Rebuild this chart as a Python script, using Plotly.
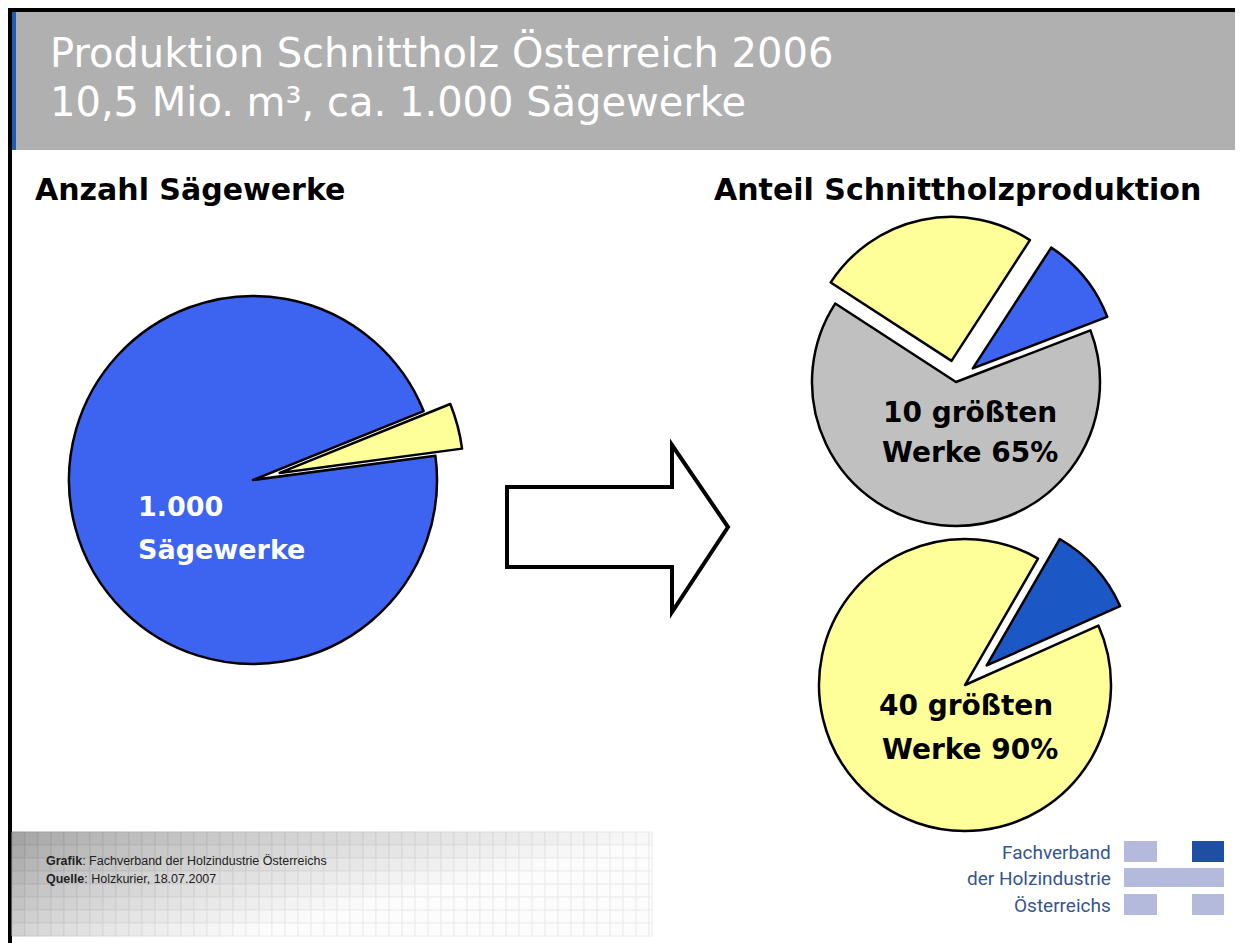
import plotly.graph_objects as go

W, H = 1243, 943
OFF = 8  # page margin of the html body
FW, FH = W - OFF, H - OFF

# --- data ---
left_labels = ["40 größten Werke", "übrige Sägewerke"]
left_values = [4, 96]

top_labels = ["übrige Werke", "10 größten Werke", "11. bis 40. größte Werke"]
top_values = [10, 65, 25]

bottom_labels = ["übrige Werke", "40 größten Werke"]
bottom_values = [10, 90]

title_lines = ["Produktion Schnittholz Österreich 2006",
               "10,5 Mio. m³, ca. 1.000 Sägewerke"]

blue = "#3C64F0"
blue_dark = "#1C57C6"
yellow = "#FFFF99"
gray = "#C0C0C0"


def px(x):
    return (x - OFF) / FW


def py(y):
    return 1 - (y - OFF) / FH


def dom(cx, cy, half):
    return dict(x=[px(cx - half), px(cx + half)], y=[py(cy + half), py(cy - half)])


def txt(x, y, s, size, color="black", bold=False, xanchor="left", family="DejaVu Sans"):
    return dict(x=px(x), y=py(y), xref="paper", yref="paper", text=s, showarrow=False,
                xanchor=xanchor, yanchor="middle", align=xanchor if xanchor != "center" else "center",
                font=dict(size=size, color=color, family=family, weight="bold" if bold else "normal"))


def rect(x0, x1, y0, y1, fill, line=None, layer="below"):
    return dict(type="rect", xref="paper", yref="paper", x0=px(x0), x1=px(x1), y0=py(y1), y1=py(y0),
                fillcolor=fill, line=line or dict(width=0), layer=layer)


fig = go.Figure()
outline = dict(color="black", width=2.5)

# left pie: 1.000 Sägewerke
r_left, pull_left = 184, 0.15
fig.add_trace(go.Pie(labels=left_labels, values=left_values, sort=False, direction="clockwise",
                     rotation=68, pull=[pull_left, 0],
                     marker=dict(colors=[yellow, blue], line=outline),
                     textinfo="none", showlegend=False,
                     domain=dom(253, 480, r_left * (1 + pull_left))))

# top right pie: 10 größten Werke 65%
r_top, pull_top = 144, 0.15
fig.add_trace(go.Pie(labels=top_labels, values=top_values, sort=False, direction="clockwise",
                     rotation=33, pull=[pull_top, 0, pull_top],
                     marker=dict(colors=[blue, gray, yellow], line=outline),
                     textinfo="none", showlegend=False,
                     domain=dom(956, 382, r_top * (1 + pull_top))))

# bottom right pie: 40 größten Werke 90%
r_bot, pull_bot = 146, 0.2
fig.add_trace(go.Pie(labels=bottom_labels, values=bottom_values, sort=False, direction="clockwise",
                     rotation=30, pull=[pull_bot, 0],
                     marker=dict(colors=[blue_dark, yellow], line=outline),
                     textinfo="none", showlegend=False,
                     domain=dom(965, 685, r_bot * (1 + pull_bot))))

shapes = []
# header band and frame
shapes.append(rect(12, W, 12, 150, "#B0B0B0"))
shapes.append(rect(OFF, W, OFF, 12, "black"))
shapes.append(rect(OFF, 12, OFF, H, "black"))
shapes.append(rect(12, 16, 12, 150, "#1F5FB0"))

# footer grid with gradient
x_start, x_end, y_start, y_end, step = 12, 652, 832, 936, 13
x = x_start
while x < x_end:
    y = y_start
    while y < y_end:
        fx = (x - x_start) / (x_end - x_start)
        fy = (y - y_start) / (y_end - y_start)
        v = min(252, int(165 + 85 * fx ** 0.7 + 50 * fy))
        lv = max(0, v - 16)
        shapes.append(rect(x, min(x + step, x_end), y, min(y + step, y_end), f"rgb({v},{v},{v})",
                           line=dict(color=f"rgb({lv},{lv},{lv})", width=1)))
        y += step
    x += step

# arrow
arrow = [(507, 487), (672, 487), (672, 445), (728, 527), (672, 612), (672, 567), (507, 567)]
path = "M " + " L ".join(f"{px(a)},{py(b)}" for a, b in arrow) + " Z"
shapes.append(dict(type="path", xref="paper", yref="paper", path=path,
                   fillcolor="white", line=dict(color="black", width=4)))

# logo blocks
logo_light = "#B3BADB"
logo_dark = "#1F4FA3"
for x0, x1, y0, y1, c in [(1124, 1157, 841, 862, logo_light), (1192, 1224, 841, 862, logo_dark),
                          (1124, 1224, 868, 887, logo_light), (1124, 1157, 894, 915, logo_light),
                          (1192, 1224, 894, 915, logo_light)]:
    shapes.append(rect(x0, x1, y0, y1, c, layer="above"))

annotations = [
    txt(48, 52, title_lines[0], 40, "white"),
    txt(48, 102, title_lines[1], 40, "white"),
    txt(33, 189, "Anzahl Sägewerke", 30, bold=True),
    txt(712, 189, "Anteil Schnittholzproduktion", 30, bold=True),
    txt(136, 506, "1.000", 27, "white", bold=True),
    txt(136, 549, "Sägewerke", 27, "white", bold=True),
    txt(970, 412, "10 größten", 28, bold=True, xanchor="center"),
    txt(970, 452, "Werke 65%", 28, bold=True, xanchor="center"),
    txt(966, 705, "40 größten", 28, bold=True, xanchor="center"),
    txt(970, 749, "Werke 90%", 28, bold=True, xanchor="center"),
    txt(44, 861, "<b>Grafik</b>: Fachverband der Holzindustrie Österreichs", 12.5, "#222222",
        family="Liberation Sans"),
    txt(44, 879, "<b>Quelle</b>: Holzkurier, 18.07.2007", 12.5, "#222222", family="Liberation Sans"),
    txt(1113, 852, "Fachverband", 19, "#34558F", xanchor="right", family="Roboto"),
    txt(1113, 878, "der Holzindustrie", 19, "#34558F", xanchor="right", family="Roboto"),
    txt(1113, 905, "Österreichs", 19, "#34558F", xanchor="right", family="Roboto"),
]

fig.update_layout(width=FW, height=FH, margin=dict(l=0, r=0, t=0, b=0),
                  paper_bgcolor="white", plot_bgcolor="white",
                  shapes=shapes, annotations=annotations, showlegend=False)

fig.write_html("out.html")
